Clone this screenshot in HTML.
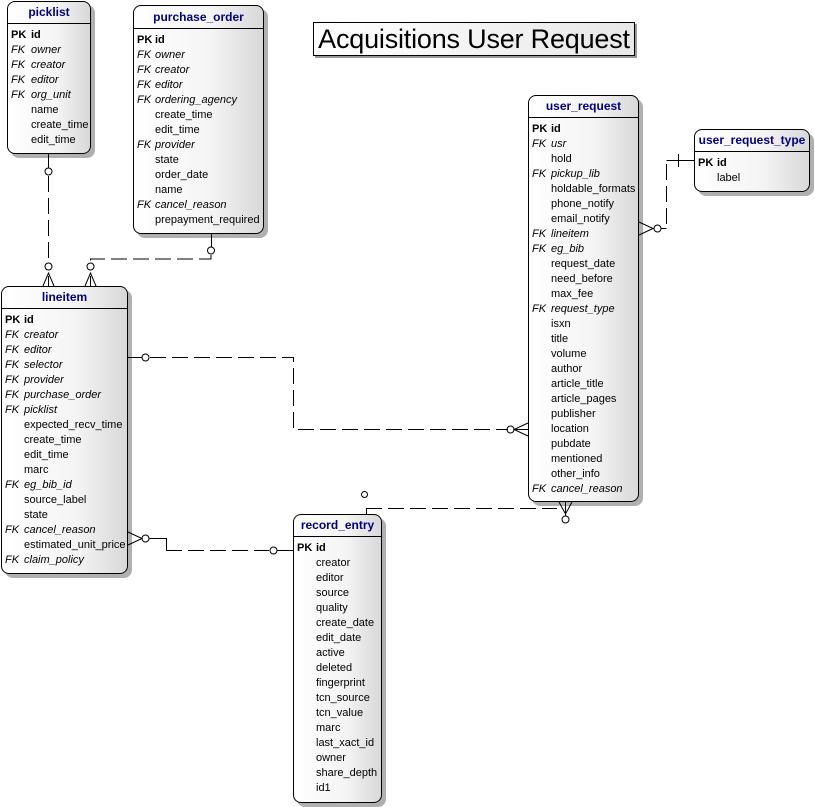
<!DOCTYPE html>
<html><head><meta charset="utf-8"><style>
body{margin:0;width:815px;height:807px;background:#fff;position:relative;overflow:hidden;font-family:"Liberation Sans",sans-serif;}
.t{position:absolute;border:1px solid #000;border-radius:8px;background:linear-gradient(90deg,#fff 0%,#f4f4f4 60%,#d8d8d8 100%);box-shadow:4px 4px 0 #b0b0b0;box-sizing:border-box;}
.h{height:21px;border-bottom:1px solid #000;text-align:center;font-weight:bold;font-size:12px;color:#000080;line-height:21px;}
.r{position:relative;font-size:11px;height:15px;line-height:15px;white-space:nowrap;}
.k{position:absolute;left:3px;font-style:italic;}
.n{position:absolute;}
.i{font-style:italic;}
.pk{font-weight:bold;}
svg{position:absolute;left:0;top:0;}
.title{position:absolute;left:313px;top:22px;width:322px;height:34px;border:1px solid #000;background:linear-gradient(90deg,#fff,#e8e8e8);box-sizing:border-box;box-shadow:2px 2px 0 #999;font-size:27px;line-height:32px;text-align:center;letter-spacing:-0.2px;}
</style></head><body>
<div class="title">Acquisitions User Request</div>

<div class="t" style="left:7px;top:1px;width:84px;height:153px;">
<div class="h">picklist</div><div style="height:4px"></div>
<div class="r pk"><span class="k" style="font-style:normal">PK</span><span class="n" style="left:23px">id</span></div>
<div class="r"><span class="k">FK</span><span class="n i" style="left:23px">owner</span></div>
<div class="r"><span class="k">FK</span><span class="n i" style="left:23px">creator</span></div>
<div class="r"><span class="k">FK</span><span class="n i" style="left:23px">editor</span></div>
<div class="r"><span class="k">FK</span><span class="n i" style="left:23px">org_unit</span></div>
<div class="r"><span class="n" style="left:23px">name</span></div>
<div class="r"><span class="n" style="left:23px">create_time</span></div>
<div class="r"><span class="n" style="left:23px">edit_time</span></div>
</div>

<div class="t" style="left:133px;top:5px;width:131px;height:229px;">
<div class="h" style="height:22px;line-height:22px">purchase_order</div><div style="height:4px"></div>
<div class="r pk"><span class="k" style="font-style:normal">PK</span><span class="n" style="left:21px">id</span></div>
<div class="r"><span class="k">FK</span><span class="n i" style="left:21px">owner</span></div>
<div class="r"><span class="k">FK</span><span class="n i" style="left:21px">creator</span></div>
<div class="r"><span class="k">FK</span><span class="n i" style="left:21px">editor</span></div>
<div class="r"><span class="k">FK</span><span class="n i" style="left:21px">ordering_agency</span></div>
<div class="r"><span class="n" style="left:21px">create_time</span></div>
<div class="r"><span class="n" style="left:21px">edit_time</span></div>
<div class="r"><span class="k">FK</span><span class="n i" style="left:21px">provider</span></div>
<div class="r"><span class="n" style="left:21px">state</span></div>
<div class="r"><span class="n" style="left:21px">order_date</span></div>
<div class="r"><span class="n" style="left:21px">name</span></div>
<div class="r"><span class="k">FK</span><span class="n i" style="left:21px">cancel_reason</span></div>
<div class="r"><span class="n" style="left:21px">prepayment_required</span></div>
</div>

<div class="t" style="left:1px;top:286px;width:127px;height:288px;">
<div class="h">lineitem</div><div style="height:4px"></div>
<div class="r pk"><span class="k" style="font-style:normal">PK</span><span class="n" style="left:22px">id</span></div>
<div class="r"><span class="k">FK</span><span class="n i" style="left:22px">creator</span></div>
<div class="r"><span class="k">FK</span><span class="n i" style="left:22px">editor</span></div>
<div class="r"><span class="k">FK</span><span class="n i" style="left:22px">selector</span></div>
<div class="r"><span class="k">FK</span><span class="n i" style="left:22px">provider</span></div>
<div class="r"><span class="k">FK</span><span class="n i" style="left:22px">purchase_order</span></div>
<div class="r"><span class="k">FK</span><span class="n i" style="left:22px">picklist</span></div>
<div class="r"><span class="n" style="left:22px">expected_recv_time</span></div>
<div class="r"><span class="n" style="left:22px">create_time</span></div>
<div class="r"><span class="n" style="left:22px">edit_time</span></div>
<div class="r"><span class="n" style="left:22px">marc</span></div>
<div class="r"><span class="k">FK</span><span class="n i" style="left:22px">eg_bib_id</span></div>
<div class="r"><span class="n" style="left:22px">source_label</span></div>
<div class="r"><span class="n" style="left:22px">state</span></div>
<div class="r"><span class="k">FK</span><span class="n i" style="left:22px">cancel_reason</span></div>
<div class="r"><span class="n" style="left:22px">estimated_unit_price</span></div>
<div class="r"><span class="k">FK</span><span class="n i" style="left:22px">claim_policy</span></div>
</div>

<div class="t" style="left:528px;top:95px;width:111px;height:407px;">
<div class="h">user_request</div><div style="height:4px"></div>
<div class="r pk"><span class="k" style="font-style:normal">PK</span><span class="n" style="left:22px">id</span></div>
<div class="r"><span class="k">FK</span><span class="n i" style="left:22px">usr</span></div>
<div class="r"><span class="n" style="left:22px">hold</span></div>
<div class="r"><span class="k">FK</span><span class="n i" style="left:22px">pickup_lib</span></div>
<div class="r"><span class="n" style="left:22px">holdable_formats</span></div>
<div class="r"><span class="n" style="left:22px">phone_notify</span></div>
<div class="r"><span class="n" style="left:22px">email_notify</span></div>
<div class="r"><span class="k">FK</span><span class="n i" style="left:22px">lineitem</span></div>
<div class="r"><span class="k">FK</span><span class="n i" style="left:22px">eg_bib</span></div>
<div class="r"><span class="n" style="left:22px">request_date</span></div>
<div class="r"><span class="n" style="left:22px">need_before</span></div>
<div class="r"><span class="n" style="left:22px">max_fee</span></div>
<div class="r"><span class="k">FK</span><span class="n i" style="left:22px">request_type</span></div>
<div class="r"><span class="n" style="left:22px">isxn</span></div>
<div class="r"><span class="n" style="left:22px">title</span></div>
<div class="r"><span class="n" style="left:22px">volume</span></div>
<div class="r"><span class="n" style="left:22px">author</span></div>
<div class="r"><span class="n" style="left:22px">article_title</span></div>
<div class="r"><span class="n" style="left:22px">article_pages</span></div>
<div class="r"><span class="n" style="left:22px">publisher</span></div>
<div class="r"><span class="n" style="left:22px">location</span></div>
<div class="r"><span class="n" style="left:22px">pubdate</span></div>
<div class="r"><span class="n" style="left:22px">mentioned</span></div>
<div class="r"><span class="n" style="left:22px">other_info</span></div>
<div class="r"><span class="k">FK</span><span class="n i" style="left:22px">cancel_reason</span></div>
</div>

<div class="t" style="left:694px;top:129px;width:116px;height:63px;">
<div class="h">user_request_type</div><div style="height:4px"></div>
<div class="r pk"><span class="k" style="font-style:normal">PK</span><span class="n" style="left:22px">id</span></div>
<div class="r"><span class="n" style="left:22px">label</span></div>
</div>

<div class="t" style="left:293px;top:514px;width:89px;height:289px;">
<div class="h">record_entry</div><div style="height:4px"></div>
<div class="r pk"><span class="k" style="font-style:normal">PK</span><span class="n" style="left:22px">id</span></div>
<div class="r"><span class="n" style="left:22px">creator</span></div>
<div class="r"><span class="n" style="left:22px">editor</span></div>
<div class="r"><span class="n" style="left:22px">source</span></div>
<div class="r"><span class="n" style="left:22px">quality</span></div>
<div class="r"><span class="n" style="left:22px">create_date</span></div>
<div class="r"><span class="n" style="left:22px">edit_date</span></div>
<div class="r"><span class="n" style="left:22px">active</span></div>
<div class="r"><span class="n" style="left:22px">deleted</span></div>
<div class="r"><span class="n" style="left:22px">fingerprint</span></div>
<div class="r"><span class="n" style="left:22px">tcn_source</span></div>
<div class="r"><span class="n" style="left:22px">tcn_value</span></div>
<div class="r"><span class="n" style="left:22px">marc</span></div>
<div class="r"><span class="n" style="left:22px">last_xact_id</span></div>
<div class="r"><span class="n" style="left:22px">owner</span></div>
<div class="r"><span class="n" style="left:22px">share_depth</span></div>
<div class="r"><span class="n" style="left:22px">id1</span></div>
</div>

<svg width="815" height="807" fill="none" stroke="#000" stroke-width="1">
<g stroke-dasharray="16,6">
<path d="M48.5 176V262"/>
<path d="M211 255V259H90.5V264"/>
<path d="M150 357.5H293.5V429.5H508"/>
<path d="M166 550.5H269"/>
<path d="M666.5 224V162"/>
<path d="M366 508.5H557"/>
</g>
<path d="M48.5 154V168M48.5 276V286M43 286L48.5 273L54 286"/>
<circle cx="48.5" cy="171.5" r="3.5"/><circle cx="48.5" cy="266.5" r="3.5"/>
<path d="M211.5 234V247"/><circle cx="211" cy="250.5" r="3.5"/>
<circle cx="90.5" cy="266.5" r="3.5"/><path d="M90.5 276V286M85 286L90.5 273L96 286"/>
<path d="M128 357.5H142"/><circle cx="145.5" cy="357.5" r="3.5"/>
<circle cx="510.5" cy="429.5" r="3.5"/><path d="M514 429.5H528M528 423L514 429.5L528 436"/>
<path d="M128 532L142 538.5L128 545"/><circle cx="145.5" cy="538.5" r="3.5"/>
<path d="M149 538.5H166.5V550.5"/>
<circle cx="273.5" cy="550.5" r="3.5"/><path d="M277 550.5H293"/>
<path d="M639 222L653 228.5L639 235"/><circle cx="657.5" cy="228.5" r="3.5"/><path d="M661 228.5H666.5"/>
<path d="M666.5 160.5H694M678.5 154V167"/>
<circle cx="364.5" cy="494.5" r="3"/>
<path d="M366.5 514V508.5"/>
<path d="M565.5 502V516M559 502L565.5 514L572 502"/><circle cx="565.5" cy="519.5" r="3.5"/>
</svg>
</body></html>
